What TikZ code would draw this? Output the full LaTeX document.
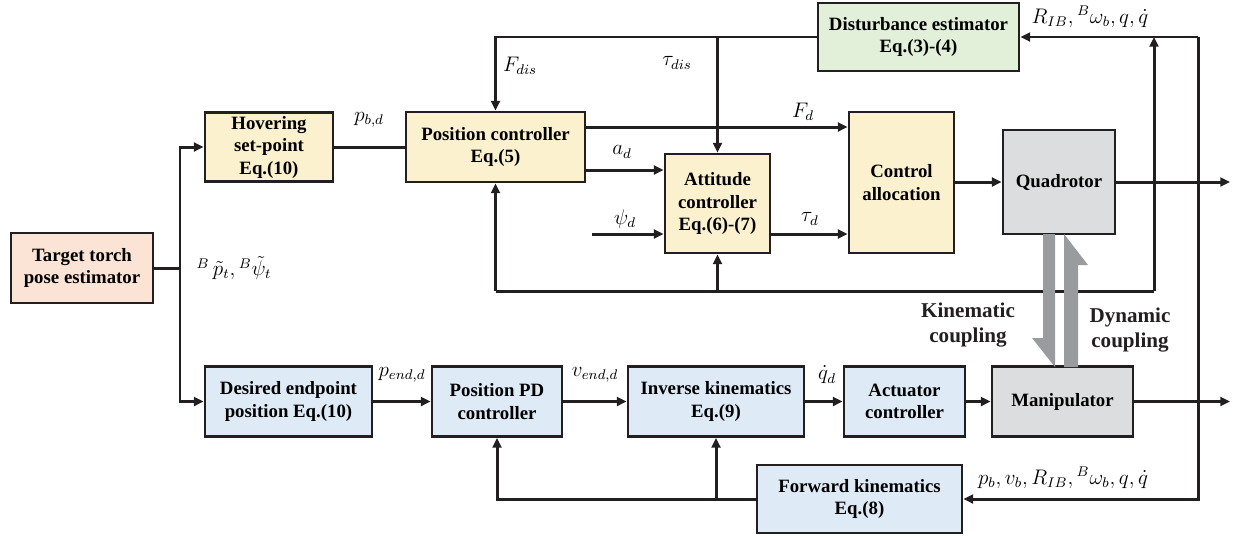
\documentclass[tikz,border=0pt]{standalone}
\usepackage[no-math]{fontspec}
\setmainfont{Liberation Serif}
\usepackage{tikz}
\usetikzlibrary{arrows.meta,calc}

\definecolor{peach}{HTML}{FBE4D5}
\definecolor{sand}{HTML}{FCF1CF}
\definecolor{mint}{HTML}{E2EFD9}
\definecolor{sky}{HTML}{DEEAF6}
\definecolor{ash}{HTML}{DCDDDE}
\definecolor{ink}{HTML}{231F20}
\definecolor{band}{HTML}{9A9B9F}

\begin{document}
\begin{tikzpicture}[x=0.02cm,y=-0.02cm,
  blk/.style={draw=ink,line width=1.6pt,align=center,inner sep=1pt,
    font=\fontsize{10.7}{12.8}\selectfont\bfseries},
  sig/.style={draw=ink,line width=1.7pt},
  arr/.style={sig,-{Triangle[length=5.5pt,width=5pt]}},
  lbl/.style={font=\fontsize{11.5}{13}\selectfont,inner sep=0pt},
  cpl/.style={font=\fontsize{12}{14}\selectfont\bfseries,align=center,text=ink}]
\useasboundingbox (0,0) rectangle (1233,535);

% blocks
\node[blk,fill=peach,minimum width=2.84cm,minimum height=1.40cm] (torch) at (82,268) {Target torch\\pose estimator};
\node[blk,fill=sand,minimum width=2.56cm,minimum height=1.38cm] (hover) at (269,147) {Hovering\\set-point\\Eq.(10)};
\node[blk,fill=sand,minimum width=3.58cm,minimum height=1.40cm] (posctrl) at (495.5,147) {Position controller\\Eq.(5)};
\node[blk,fill=sand,minimum width=2.10cm,minimum height=1.98cm] (att) at (717.5,203.5) {Attitude\\controller\\Eq.(6)-(7)};
\node[blk,fill=sand,minimum width=2.10cm,minimum height=2.82cm] (alloc) at (901.5,182.5) {Control\\allocation};
\node[blk,fill=ash,minimum width=2.24cm,minimum height=2.08cm] (quad) at (1059,182) {Quadrotor};
\node[blk,fill=mint,minimum width=4.02cm,minimum height=1.36cm] (dist) at (918.5,37) {Disturbance estimator\\Eq.(3)-(4)};
\node[blk,fill=sky,minimum width=3.34cm,minimum height=1.40cm] (desired) at (288.5,401.5) {Desired endpoint\\position Eq.(10)};
\node[blk,fill=sky,minimum width=2.60cm,minimum height=1.40cm] (pd) at (497,401.5) {Position PD\\controller};
\node[blk,fill=sky,minimum width=3.52cm,minimum height=1.40cm] (ik) at (716,401.5) {Inverse kinematics\\Eq.(9)};
\node[blk,fill=sky,minimum width=2.42cm,minimum height=1.40cm] (act) at (904.5,401.5) {Actuator\\controller};
\node[blk,fill=ash,minimum width=2.82cm,minimum height=1.40cm] (manip) at (1062.5,401.5) {Manipulator};
\node[blk,fill=sky,minimum width=4.10cm,minimum height=1.36cm] (fk) at (859.5,499) {Forward kinematics\\Eq.(8)};

% helper coordinates
\coordinate (split) at (180,268);
\coordinate (yFd) at (0,127);
\coordinate (yad) at (0,170);
\coordinate (ytaud) at (0,234);
\coordinate (psiin) at (592,234);
\coordinate (loopy) at (0,291);
\coordinate (loopx) at (1154,0);
\coordinate (busx) at (1198,0);
\coordinate (outx) at (1230,0);

% upper loop
\draw[sig] (torch.east) -- (split);
\draw[arr] (split) |- (hover.west);
\draw[arr] (split) |- (desired.west);
\draw[sig] (hover.east) -- (posctrl.west);
\draw[arr] (dist.west) -| (posctrl.north);
\draw[arr] (att.north |- dist.west) -- (att.north);
\draw[arr] (posctrl.east |- yFd) -- (alloc.west |- yFd);
\draw[arr] (posctrl.east |- yad) -- (att.west |- yad);
\draw[arr] (psiin) -- (att.west |- psiin);
\draw[arr] (att.east |- ytaud) -- (alloc.west |- ytaud);
\draw[arr] (alloc.east |- quad.west) -- (quad.west);
\draw[arr] (quad.east) -- (quad.east -| outx);
\draw[sig] (posctrl.south |- loopy) -- (loopx |- loopy);
\draw[arr] (loopx |- loopy) -- (loopx |- dist.east);
\draw[arr] (posctrl.south |- loopy) -- (posctrl.south);
\draw[arr] (att.south |- loopy) -- (att.south);
\draw[arr] (busx |- dist.east) -- (dist.east);
\draw[arr] (busx |- dist.east) |- (fk.east);

% lower loop
\draw[arr] (desired) -- (pd);
\draw[arr] (pd) -- (ik);
\draw[arr] (ik) -- (act);
\draw[arr] (act) -- (manip);
\draw[arr] (manip.east) -- (manip.east -| outx);
\draw[arr] (fk.west) -| (pd.south);
\draw[arr] (ik.south |- fk.west) -- (ik.south);

% coupling arrows
\fill[band] (1043,234) -- (1055,234) -- (1055,367) -- (1032,338) -- (1043,338) -- cycle;
\fill[band] (1064,367) -- (1078,367) -- (1078,265) -- (1088,265) -- (1064,234) -- cycle;
\node[cpl] (kin) at (968,325) {Kinematic\\coupling};
\node[cpl] (dyn) at (1130,330) {Dynamic\\coupling};

% signal labels
\node[lbl] (lpbd) at (369,120) {$p_{b,d}$};
\node[lbl] (lpt) at (234,268) {$^{B}\,\tilde{p}_t,{}^{B}\tilde{\psi}_t$};
\node[lbl] (lfdis) at (520,66) {$F_{dis}$};
\node[lbl] (ltdis) at (677,63) {$\tau_{dis}$};
\node[lbl] (lfd) at (803,112) {$F_d$};
\node[lbl] (lad) at (622,152) {$a_d$};
\node[lbl] (lpsi) at (625,219) {$\psi_d$};
\node[lbl] (ltd) at (810,219) {$\tau_d$};
\node[lbl] (lstate) at (1090,17) {$R_{IB},{}^{B}\omega_b,q,\dot{q}$};
\node[lbl] (lpend) at (402,375) {$p_{end,d}$};
\node[lbl] (lvend) at (595,375) {$v_{end,d}$};
\node[lbl] (lqd) at (827,375) {$\dot{q}_d$};
\node[lbl] (lfull) at (1063,478) {$p_b,v_b,R_{IB},{}^{B}\omega_b,q,\dot{q}$};
\end{tikzpicture}
\end{document}
